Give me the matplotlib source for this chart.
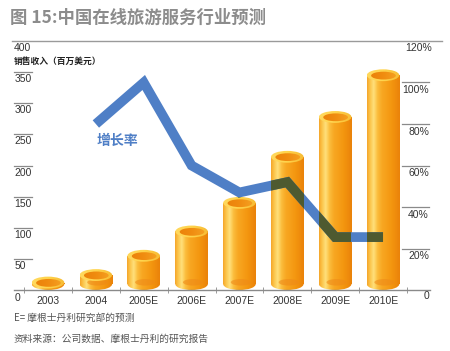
import matplotlib
matplotlib.use('Agg')
import matplotlib.pyplot as plt
import numpy as np
from matplotlib.patches import Rectangle, Ellipse
from matplotlib.colors import LinearSegmentedColormap

# ---- data ----
years = ['2003', '2004', '2005E', '2006E', '2007E', '2008E', '2009E', '2010E']
revenue = [12, 24, 55, 94, 140, 214, 278, 345]          # 百万美元
growth_years = ['2004', '2005E', '2006E', '2007E', '2008E', '2009E', '2010E']
growth = [80, 100, 60, 47, 52, 25.5, 25.5]               # %
left_ticks = [50, 100, 150, 200, 250, 300, 350]
right_ticks = [20, 40, 60, 80, 100]
right_labels = ['20%', '40%', '60%', '80%', '100%']

CJK = ['Noto Sans CJK SC', 'DejaVu Sans']
NUM = ['Liberation Sans', 'Noto Sans CJK SC']

W, H = 450, 351
fig = plt.figure(figsize=(W / 100, H / 100), dpi=100)
fig.patch.set_facecolor('white')

def fx(px): return px / W
def fy(py): return 1 - py / H

ax_l, ax_r, ax_t, ax_b = 14, 430, 41, 290
ax = fig.add_axes([fx(ax_l), fy(ax_b), fx(ax_r) - fx(ax_l), fy(ax_t) - fy(ax_b)])
ax.set_facecolor('none')
step = 47.86
ax.set_xlim((ax_l - 48) / step, (ax_r - 48) / step)
ax.set_ylim(0, 400)
xpos = np.arange(len(years))

for s in ['top', 'left', 'right']:
    ax.spines[s].set_visible(False)
ax.spines['bottom'].set_color('#8a8a8a')
ax.spines['bottom'].set_linewidth(1.0)
ax.set_yticks([])
ax.set_xticks(xpos)
ax.set_xticklabels(years, family=NUM, fontsize=7.5, color='#333333')
ax.tick_params(axis='x', which='major', length=0, pad=4)
ax.set_xticks(np.arange(-0.5, 8, 1), minor=True)
ax.tick_params(axis='x', which='minor', length=4, direction='inout', color='#8a8a8a')

# ---- cylinders ----
body_cmap = LinearSegmentedColormap.from_list('body', [
    (0.0, '#f5a52a'), (0.08, '#fbc246'), (0.2, '#ffe07c'), (0.32, '#fbbd3c'),
    (0.45, '#f8a823'), (0.75, '#f4960f'), (1.0, '#ea820a')])
rim_cmap = LinearSegmentedColormap.from_list('rim', [
    (0.0, '#ffd95e'), (0.5, '#ffd44c'), (1.0, '#f7bb34')])
inner_cmap = LinearSegmentedColormap.from_list('inner', [
    (0.0, '#ea7f08'), (0.5, '#f08c10'), (1.0, '#f6a526')])
grad = np.linspace(0, 1, 128).reshape(1, -1)
w = 0.68
e = 19.0  # ellipse height in data units

for xi, v in zip(xpos, revenue):
    x0 = xi - w / 2
    y0 = e / 2
    body = Rectangle((x0, y0), w, max(v - y0, 0.01), transform=ax.transData)
    im = ax.imshow(grad, cmap=body_cmap, extent=[x0, x0 + w, 0, v], aspect='auto',
                   zorder=2, interpolation='bilinear')
    im.set_clip_path(body)
    bot = Ellipse((xi, y0), w, e, transform=ax.transData)
    im2 = ax.imshow(grad, cmap=body_cmap, extent=[x0, x0 + w, 0, v + e], aspect='auto',
                    zorder=2, interpolation='bilinear')
    im2.set_clip_path(bot)
    # darker reflection near the base
    ax.add_patch(Ellipse((xi + 0.03, y0 + 0.15 * e), w * 0.62, e * 0.55,
                         facecolor='#ee8a18', edgecolor='none', alpha=0.6, zorder=2.5))
    top = Ellipse((xi, v), w, e, transform=ax.transData)
    im3 = ax.imshow(grad, cmap=rim_cmap, extent=[x0, x0 + w, v - e, v + e],
                    aspect='auto', zorder=3, interpolation='bilinear')
    im3.set_clip_path(top)
    inner = Ellipse((xi + 0.01, v - 0.03 * e), w * 0.76, e * 0.66, transform=ax.transData)
    im4 = ax.imshow(grad, cmap=inner_cmap, extent=[x0, x0 + w, v - e, v + e],
                    aspect='auto', zorder=4, interpolation='bilinear')
    im4.set_clip_path(inner)
ax.set_xlim((ax_l - 48) / step, (ax_r - 48) / step)
ax.set_ylim(0, 400)

# ---- growth line ----
ax2 = ax.twinx()
ax2.set_ylim(0, 120)
ax2.set_yticks([])
for s in ax2.spines.values():
    s.set_visible(False)
gx = [years.index(y) for y in growth_years]
ax2.plot(gx, growth, color='#4f7fc6', lw=7, solid_joinstyle='miter',
         solid_capstyle='butt', zorder=5)
for xi, v in zip(xpos, revenue):
    clip = Rectangle((xi - w / 2, 0), w, v + e / 2, transform=ax.transData)
    ln, = ax2.plot(gx, growth, color='#4e5a30', lw=7, solid_joinstyle='miter',
                   solid_capstyle='butt', zorder=6)
    ln.set_clip_path(clip)

# ---- custom axis labels ----
lx0 = 0.0
lx1 = (32 - ax_l) / (ax_r - ax_l)
for v in left_ticks:
    ax.plot([lx0, lx1], [v, v], transform=ax.get_yaxis_transform(), color='#8a8a8a',
            lw=0.9, clip_on=False)
    ax.annotate(str(v), xy=(0.0, v), xycoords=('axes fraction', 'data'),
                xytext=(0.5, -1.5), textcoords='offset points', va='top', ha='left',
                family=NUM, fontsize=7.5, color='#333333')
rx0 = (402 - ax_l) / (ax_r - ax_l)
rx1 = (429 - ax_l) / (ax_r - ax_l)
for v, lab in zip(right_ticks, right_labels):
    ax2.plot([rx0, rx1], [v, v], transform=ax2.get_yaxis_transform(), color='#8a8a8a',
             lw=0.9, clip_on=False)
    ax2.annotate(lab, xy=(rx1, v), xycoords=('axes fraction', 'data'),
                 xytext=(0, -2), textcoords='offset points', va='top', ha='right',
                 family=NUM, fontsize=7.5, color='#333333')

fig.text(fx(14), fy(48), '400', family=NUM, fontsize=7.5, color='#333333',
         va='center', ha='left')
fig.text(fx(405), fy(48), '120%', family=NUM, fontsize=7.5, color='#333333',
         va='center', ha='left')
fig.text(fx(15), fy(298), '0', family=NUM, fontsize=7.5, color='#333333',
         va='center', ha='left')
fig.text(fx(424), fy(296), '0', family=NUM, fontsize=7.5, color='#333333',
         va='center', ha='left')
fig.text(fx(14), fy(61), '销售收入（百万美元）', family=CJK, fontsize=6.3,
         color='#222222', va='center', ha='left', fontweight='bold')

# title and rule
fig.text(fx(10), fy(18), '图 15:中国在线旅游服务行业预测', family=CJK, fontsize=12.5,
         fontweight='bold', color='#8c8c8c', va='center', ha='left')
fig.add_artist(plt.Line2D([fx(12), fx(442)], [fy(41), fy(41)], color='#9a9a9a', lw=1.0))

# series label
fig.text(fx(97), fy(141), '增长率', family=CJK, fontsize=10, fontweight='bold',
         color='#4f7fc6', va='center', ha='left')

# footnotes
fig.text(fx(14), fy(318), 'E= 摩根士丹利研究部的预测', family=CJK, fontsize=7,
         color='#555555', va='center', ha='left')
fig.text(fx(14), fy(339), '资料来源：公司数据、摩根士丹利的研究报告', family=CJK,
         fontsize=7, color='#555555', va='center', ha='left')

fig.savefig('out.png', dpi=100, facecolor='white')
